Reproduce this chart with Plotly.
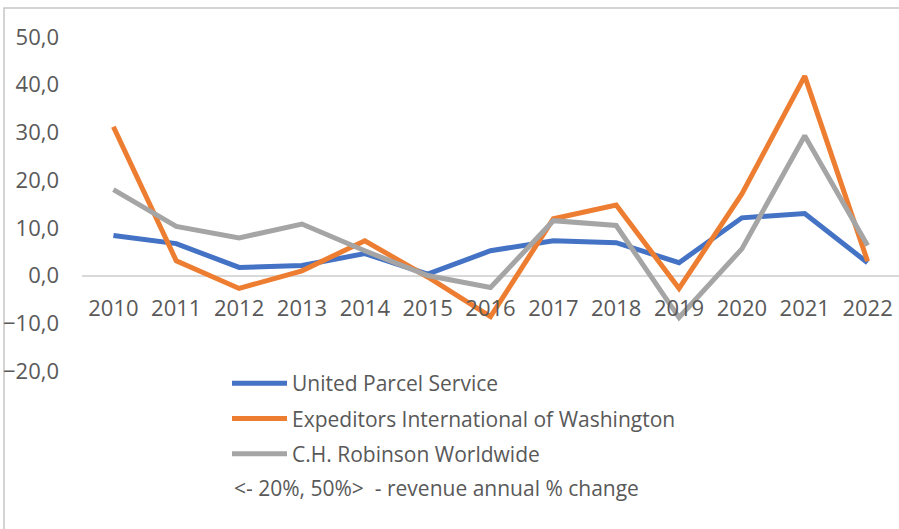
import plotly.graph_objects as go

years = ["2010", "2011", "2012", "2013", "2014", "2015", "2016",
         "2017", "2018", "2019", "2020", "2021", "2022"]
ups = [8.4, 6.7, 1.7, 2.1, 4.6, 0.3, 5.2, 7.3, 6.9, 2.7, 12.1, 13.0, 2.7]
expeditors = [31.2, 3.1, -2.7, 1.0, 7.3, -0.3, -8.6, 11.9, 14.8, -2.7, 17.1, 41.8, 3.0]
chrobinson = [18.0, 10.3, 7.9, 10.8, 5.2, 0.0, -2.5, 11.5, 10.5, -8.8, 5.6, 29.3, 6.3]

series_names = ["United Parcel Service", "Expeditors International of Washington",
                "C.H. Robinson Worldwide"]
series_colors = ["#4472C4", "#ED7D31", "#A5A5A5"]
note_text = "<- 20%, 50%>  - revenue annual % change"

FONT = "Open Sans, Noto Sans, sans-serif"
TXT = "#595959"

fig = go.Figure()
for i, (name, vals, col) in enumerate(zip(series_names, [ups, expeditors, chrobinson], series_colors)):
    fig.add_trace(go.Scatter(x=years, y=vals, mode="lines", name=name,
                             legendgroup=f"g{i}",
                             line=dict(color=col, width=5)))

W, H = 899, 529
L, R, T, B = 82, 0, 37, 158
pw = W - L - R
ph = H - T - B

def px_x(x):
    return (x - L) / pw

def px_y(y):
    return 1 - (y - T) / ph

fig.update_layout(
    width=W, height=H,
    margin=dict(l=L, r=R, t=T, b=B),
    paper_bgcolor="white", plot_bgcolor="white",
    separators=",.",
    font=dict(family=FONT, color=TXT, size=21),
    showlegend=True,
    legend=dict(x=px_x(227), y=px_y(363), xanchor="left", yanchor="top",
                orientation="v", font=dict(size=21, color=TXT, family=FONT),
                itemwidth=55, tracegroupgap=5, bgcolor="rgba(0,0,0,0)"),
    xaxis=dict(type="category", range=[-0.5, 12.5], showgrid=False,
               showline=False, zeroline=False, anchor="free",
               position=20 / 70, ticks="", ticklabelstandoff=17,
               tickfont=dict(size=22, color=TXT, family=FONT)),
    yaxis=dict(range=[-20, 50], dtick=10, tickformat=".1f", showgrid=False,
               zeroline=True, zerolinecolor="#d9d9d9", zerolinewidth=1.5,
               showline=False, ticks="", ticklabelstandoff=22,
               tickfont=dict(size=22, color=TXT, family=FONT)),
    shapes=[dict(type="rect", xref="paper", yref="paper",
                 x0=px_x(4), x1=1.2, y0=-1.0, y1=px_y(8),
                 line=dict(color="#c6c6c6", width=1.5), layer="below")],
    annotations=[dict(text=note_text, xref="paper", yref="paper",
                      x=px_x(232), y=px_y(488), xanchor="left", yanchor="middle",
                      showarrow=False, font=dict(size=21, color=TXT, family=FONT))],
)

fig.write_html("out.html", config={"displayModeBar": False},
               post_script="document.body.style.margin='0px';")
